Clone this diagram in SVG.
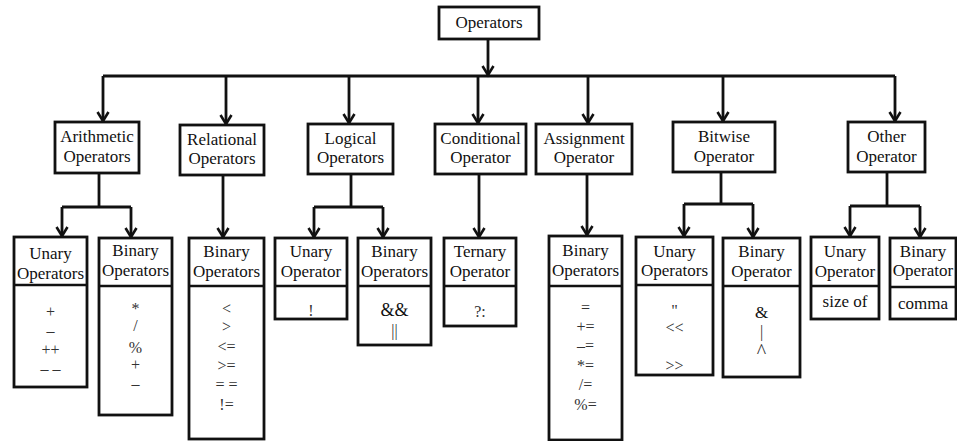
<svg xmlns="http://www.w3.org/2000/svg" width="957" height="441" viewBox="0 0 957 441">
<style>
.box{fill:#fff;stroke:#111;stroke-width:2.8}
.div{stroke:#111;stroke-width:2.5}
text{font-family:'Liberation Serif','DejaVu Serif',serif}
.h{font-size:17px;fill:#111;text-anchor:middle}
.i{font-size:16px;fill:#333;text-anchor:middle}
.c{fill:none;stroke:#111;stroke-width:2.8}
.a{fill:none;stroke:#111;stroke-width:2.8;marker-end:url(#arr)}
</style>
<defs>
<marker id="arr" markerUnits="userSpaceOnUse" orient="auto" refX="0" refY="0" markerWidth="12" markerHeight="12" overflow="visible">
<path d="M-9,-5.5 L0,0 L-9,5.5" fill="none" stroke="#111" stroke-width="2.6"/>
</marker>
</defs>
<rect width="957" height="441" fill="#fff"/>

<g id="connectors">
<line class="a" x1="488" y1="39" x2="488" y2="75"/>
<line class="c" x1="103" y1="76" x2="895" y2="76"/>
<line class="a" x1="103" y1="76" x2="103" y2="121"/>
<line class="a" x1="226" y1="76" x2="226" y2="124"/>
<line class="a" x1="349" y1="76" x2="349" y2="123"/>
<line class="a" x1="478" y1="76" x2="478" y2="123"/>
<line class="a" x1="588" y1="76" x2="588" y2="123"/>
<line class="a" x1="723" y1="76" x2="723" y2="121"/>
<line class="a" x1="895" y1="76" x2="895" y2="121"/>

<polyline class="c" points="99,173 99,207"/>
<line class="c" x1="62" y1="207" x2="131" y2="207"/>
<line class="a" x1="62" y1="207" x2="62" y2="236"/>
<line class="a" x1="131" y1="207" x2="131" y2="237"/>

<line class="a" x1="223" y1="175" x2="223" y2="237"/>

<polyline class="c" points="351,174 351,207"/>
<line class="c" x1="314" y1="207" x2="383" y2="207"/>
<line class="a" x1="314" y1="207" x2="314" y2="237"/>
<line class="a" x1="383" y1="207" x2="383" y2="237"/>

<line class="a" x1="479" y1="174" x2="479" y2="237"/>

<line class="a" x1="587" y1="174" x2="587" y2="235"/>

<polyline class="c" points="721,172 721,204"/>
<line class="c" x1="684" y1="204" x2="753" y2="204"/>
<line class="a" x1="684" y1="204" x2="684" y2="236"/>
<line class="a" x1="753" y1="204" x2="753" y2="237"/>

<polyline class="c" points="887,172 887,206"/>
<line class="c" x1="850" y1="206" x2="920" y2="206"/>
<line class="a" x1="850" y1="206" x2="850" y2="236"/>
<line class="a" x1="920" y1="206" x2="920" y2="237"/>
</g>

<g id="root">
<rect class="box" x="439" y="7" width="100" height="32"/>
<text class="h" x="489" y="28">Operators</text>
</g>

<g id="arithmetic">
<rect class="box" x="55" y="122" width="84" height="51"/>
<text class="h" x="97" y="142">Arithmetic</text>
<text class="h" x="97" y="162">Operators</text>
</g>
<g id="relational">
<rect class="box" x="180" y="125" width="84" height="50"/>
<text class="h" x="222" y="145">Relational</text>
<text class="h" x="222" y="164">Operators</text>
</g>
<g id="logical">
<rect class="box" x="308" y="124" width="85" height="50"/>
<text class="h" x="350.5" y="144">Logical</text>
<text class="h" x="350.5" y="163">Operators</text>
</g>
<g id="conditional">
<rect class="box" x="435" y="124" width="91" height="50"/>
<text class="h" x="480.5" y="144">Conditional</text>
<text class="h" x="480.5" y="163">Operator</text>
</g>
<g id="assignment">
<rect class="box" x="536" y="124" width="96" height="50"/>
<text class="h" x="584" y="144">Assignment</text>
<text class="h" x="584" y="163">Operator</text>
</g>
<g id="bitwise">
<rect class="box" x="673" y="122" width="102" height="50"/>
<text class="h" x="724" y="142">Bitwise</text>
<text class="h" x="724" y="162">Operator</text>
</g>
<g id="other">
<rect class="box" x="848" y="122" width="77" height="50"/>
<text class="h" x="886.5" y="142">Other</text>
<text class="h" x="886.5" y="162">Operator</text>
</g>

<g id="arith-unary">
<rect class="box" x="14" y="237" width="73" height="150"/>
<line class="div" x1="14" y1="285" x2="87" y2="285"/>
<text class="h" x="50.5" y="259">Unary</text>
<text class="h" x="50.5" y="279">Operators</text>
<text class="i" x="50.5" y="317">+</text>
<text class="i" x="50.5" y="336">–</text>
<text class="i" x="50.5" y="355">++</text>
<text class="i" x="50.5" y="374">– –</text>
</g>
<g id="arith-binary">
<rect class="box" x="99" y="238" width="73" height="177"/>
<line class="div" x1="99" y1="286" x2="172" y2="286"/>
<text class="h" x="135.5" y="256">Binary</text>
<text class="h" x="135.5" y="276">Operators</text>
<text class="i" x="135.5" y="314">*</text>
<text class="i" x="135.5" y="331">/</text>
<text class="i" x="135.5" y="353">%</text>
<text class="i" x="135.5" y="370">+</text>
<text class="i" x="135.5" y="389">–</text>
</g>
<g id="relational-binary">
<rect class="box" x="189" y="238" width="75" height="201"/>
<line class="div" x1="189" y1="286" x2="264" y2="286"/>
<text class="h" x="226.5" y="257">Binary</text>
<text class="h" x="226.5" y="277">Operators</text>
<text class="i" x="226.5" y="314">&lt;</text>
<text class="i" x="226.5" y="332">&gt;</text>
<text class="i" x="226.5" y="352">&lt;=</text>
<text class="i" x="226.5" y="371">&gt;=</text>
<text class="i" x="226.5" y="390">= =</text>
<text class="i" x="226.5" y="410">!=</text>
</g>
<g id="logical-unary">
<rect class="box" x="275" y="238" width="72" height="81"/>
<line class="div" x1="275" y1="286" x2="347" y2="286"/>
<text class="h" x="311" y="257">Unary</text>
<text class="h" x="311" y="277">Operator</text>
<text class="i" x="311" y="316">!</text>
</g>
<g id="logical-binary">
<rect class="box" x="358" y="238" width="73" height="107"/>
<line class="div" x1="358" y1="286" x2="431" y2="286"/>
<text class="h" x="394.5" y="257">Binary</text>
<text class="h" x="394.5" y="277">Operators</text>
<text class="i" x="394.5" y="316" style="font-size:18px;fill:#111">&amp;&amp;</text>
<text class="i" x="394.5" y="336">||</text>
</g>
<g id="ternary">
<rect class="box" x="444" y="238" width="72" height="88"/>
<line class="div" x1="444" y1="286" x2="516" y2="286"/>
<text class="h" x="480" y="257">Ternary</text>
<text class="h" x="480" y="277">Operator</text>
<text class="i" x="480" y="317">?:</text>
</g>
<g id="assignment-binary">
<rect class="box" x="549" y="236" width="73" height="204"/>
<line class="div" x1="549" y1="286" x2="622" y2="286"/>
<text class="h" x="585.5" y="256">Binary</text>
<text class="h" x="585.5" y="276">Operators</text>
<text class="i" x="585.5" y="313">=</text>
<text class="i" x="585.5" y="332">+=</text>
<text class="i" x="585.5" y="351">–=</text>
<text class="i" x="585.5" y="371">*=</text>
<text class="i" x="585.5" y="390">/=</text>
<text class="i" x="585.5" y="410">%=</text>
</g>
<g id="bitwise-unary">
<rect class="box" x="636" y="237" width="77" height="138"/>
<line class="div" x1="636" y1="285" x2="713" y2="285"/>
<text class="h" x="674.5" y="257">Unary</text>
<text class="h" x="674.5" y="276">Operators</text>
<text class="i" x="674.5" y="316">"</text>
<text class="i" x="674.5" y="333">&lt;&lt;</text>
<text class="i" x="674.5" y="371">&gt;&gt;</text>
</g>
<g id="bitwise-binary">
<rect class="box" x="723" y="238" width="77" height="139"/>
<line class="div" x1="723" y1="286" x2="800" y2="286"/>
<text class="h" x="761.5" y="257">Binary</text>
<text class="h" x="761.5" y="277">Operator</text>
<text class="i" x="761.5" y="318" style="font-size:17px;fill:#111">&amp;</text>
<text class="i" x="761.5" y="337">|</text>
<text class="i" x="761.5" y="358" style="font-size:20px">^</text>
</g>
<g id="other-unary">
<rect class="box" x="811" y="237" width="68" height="82"/>
<line class="div" x1="811" y1="286" x2="879" y2="286"/>
<text class="h" x="845" y="257">Unary</text>
<text class="h" x="845" y="277">Operator</text>
<text class="h" x="845" y="307">size of</text>
</g>
<g id="other-binary">
<rect class="box" x="890" y="238" width="66" height="81"/>
<line class="div" x1="890" y1="287" x2="956" y2="287"/>
<text class="h" x="923" y="257">Binary</text>
<text class="h" x="923" y="276">Operator</text>
<text class="h" x="923" y="309">comma</text>
</g>
</svg>
